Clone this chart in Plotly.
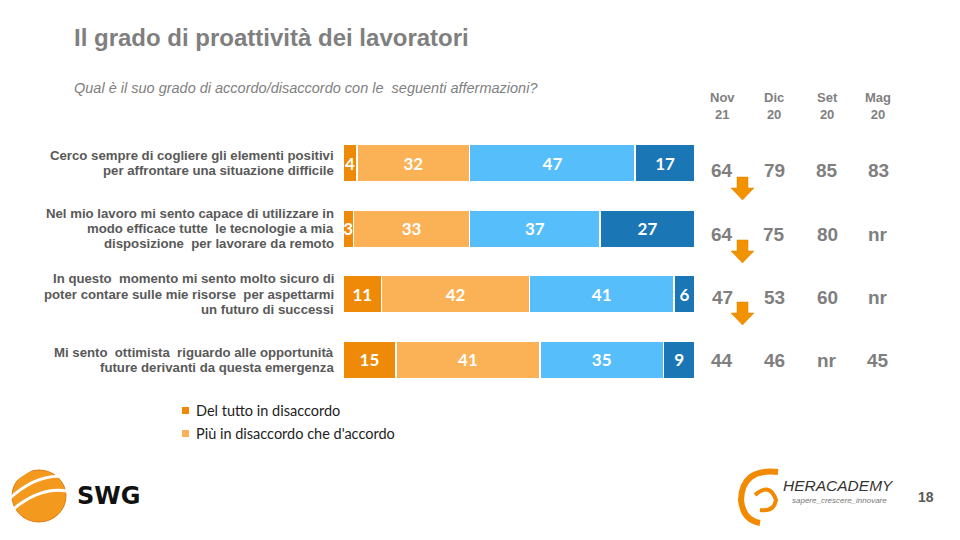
import plotly.graph_objects as go

# ---------------- data ----------------
statements = [
    "Cerco sempre di cogliere gli elementi positivi<br>per affrontare una situazione difficile",
    "Nel mio lavoro mi sento capace di utilizzare in<br>modo efficace tutte  le tecnologie a mia<br>disposizione  per lavorare da remoto",
    "In questo  momento mi sento molto sicuro di<br>poter contare sulle mie risorse  per aspettarmi<br>un futuro di successi",
    "Mi sento  ottimista  riguardo alle opportunità<br>future derivanti da questa emergenza",
]
series_names = [
    "Del tutto in disaccordo",
    "Più in disaccordo che d'accordo",
    "Più d'accordo che in disaccordo",
    "Del tutto d'accordo",
]
del_tutto_disaccordo = [4, 3, 11, 15]
piu_disaccordo = [32, 33, 42, 41]
piu_accordo = [47, 37, 41, 35]
del_tutto_accordo = [17, 27, 6, 9]
legend_shown = [0, 1]  # only the first two legend entries are visible

period_labels = ["Nov<br>21", "Dic<br>20", "Set<br>20", "Mag<br>20"]
trend_nov21 = ["64", "64", "47", "44"]
trend_dic20 = ["79", "75", "53", "46"]
trend_set20 = ["85", "80", "60", "nr"]
trend_mag20 = ["83", "nr", "nr", "45"]
decrease_rows = [0, 1, 2]  # rows with down arrows after Nov 21

colors = ["#EF8A09", "#FBB155", "#56BEFB", "#1A76B4"]

W, H = 960, 540
def px(x):
    return x / W
def py(y):
    return 1 - y / H

fig = go.Figure()
values = [del_tutto_disaccordo, piu_disaccordo, piu_accordo, del_tutto_accordo]
ys = list(range(len(statements)))
for i, (name, vals) in enumerate(zip(series_names, values)):
    fig.add_trace(go.Bar(
        y=ys, x=vals, orientation="h", name=name,
        marker=dict(color=colors[i], line=dict(color="white", width=1.5)),
        text=[str(v) for v in vals], textposition="inside",
        insidetextanchor="middle", textangle=0,
        textfont=dict(family="Lato", size=17, color="white", weight="bold"),
        showlegend=False, hoverinfo="skip",
    ))

fig.update_layout(
    barmode="stack", bargap=0.43,
    width=W, height=H,
    margin=dict(l=0, r=0, t=0, b=0),
    plot_bgcolor="white", paper_bgcolor="white",
    uniformtext=dict(minsize=17, mode="show"),
    xaxis=dict(domain=[px(343), px(695)], range=[0, 100], visible=False, fixedrange=True),
    yaxis=dict(domain=[py(392.6), py(130.2)], range=[3.5, -0.5], visible=False, fixedrange=True),
    showlegend=False,
)

ann = []
shapes = []
# title + subtitle
ann.append(dict(x=px(72), y=py(37), xref="paper", yref="paper", xanchor="left", yanchor="middle",
                text="<b>Il grado di proattività dei lavoratori</b>", showarrow=False,
                font=dict(family="Liberation Sans", size=24, color="#7F7F7F")))
ann.append(dict(x=px(72), y=py(88), xref="paper", yref="paper", xanchor="left", yanchor="middle",
                text="<i>Qual è il suo grado di accordo/disaccordo con le  seguenti affermazioni?</i>", showarrow=False,
                font=dict(family="Liberation Sans", size=14.5, color="#7F7F7F")))
# statements: one annotation per line for tight line spacing
line_gap = 15.3
for i, s in enumerate(statements):
    lines = s.split("<br>")
    n = len(lines)
    centre_px = 163 + 65.6 * i
    for j, ln in enumerate(lines):
        yline = centre_px + (j - (n - 1) / 2) * line_gap
        ann.append(dict(x=px(336), y=py(yline), xref="paper", yref="paper", xanchor="right", yanchor="middle",
                        text="<b>" + ln + "</b>", showarrow=False, align="right",
                        font=dict(family="Liberation Sans", size=13.2, color="#595959")))
# trend columns
col_x = [722, 774, 827, 878]
val_y = [170, 234, 297, 360]
cols = [trend_nov21, trend_dic20, trend_set20, trend_mag20]
for cx, lab, col in zip(col_x, period_labels, cols):
    ann.append(dict(x=px(cx), y=py(106), xref="paper", yref="paper", xanchor="center", yanchor="middle",
                    text="<b>" + lab + "</b>", showarrow=False,
                    font=dict(family="Liberation Sans", size=13, color="#7F7F7F")))
    for vy, v in zip(val_y, col):
        ann.append(dict(x=px(cx), y=py(vy), xref="paper", yref="paper", xanchor="center", yanchor="middle",
                        text="<b>" + v + "</b>", showarrow=False,
                        font=dict(family="Liberation Sans", size=19, color="#7F7F7F")))
# manual legend (only the first two entries are visible in the original)
leg_y = [410.5, 433.5]
for k, idx in enumerate(legend_shown):
    shapes.append(dict(type="rect", xref="paper", yref="paper",
                       x0=px(182), x1=px(189), y0=py(leg_y[k] + 3.5), y1=py(leg_y[k] - 3.5),
                       fillcolor=colors[idx], line=dict(width=0)))
    ann.append(dict(x=px(194), y=py(leg_y[k]), xref="paper", yref="paper", xanchor="left", yanchor="middle",
                    text=series_names[idx], showarrow=False,
                    font=dict(family="Lato", size=14.5, color="#222")))
# logos / page number
ann.append(dict(x=px(108), y=py(496), xref="paper", yref="paper", xanchor="center", yanchor="middle",
                text="<b>SWG</b>", showarrow=False,
                font=dict(family="DejaVu Sans", size=24, color="#111")))
ann.append(dict(x=px(781), y=py(485), xref="paper", yref="paper", xanchor="left", yanchor="middle",
                text="<i>HERACADEMY</i>", showarrow=False,
                font=dict(family="Liberation Sans Narrow, Liberation Sans", size=15.5, color="#333")))
ann.append(dict(x=px(790), y=py(500), xref="paper", yref="paper", xanchor="left", yanchor="middle",
                text="<i>sapere_crescere_innovare</i>", showarrow=False,
                font=dict(family="Liberation Sans", size=8, color="#777")))
ann.append(dict(x=px(926), y=py(497), xref="paper", yref="paper", xanchor="center", yanchor="middle",
                text="<b>18</b>", showarrow=False,
                font=dict(family="Liberation Sans", size=14, color="#595959")))

# down arrows
arrow_tops = [177, 240, 302]
for r in decrease_rows:
    t = arrow_tops[r]
    pts = [(737, t), (748, t), (748, t + 11), (754, t + 11), (742.5, t + 23), (731, t + 11), (737, t + 11)]
    path = "M " + " L ".join(f"{px(x):.5f},{py(y):.5f}" for x, y in pts) + " Z"
    shapes.append(dict(type="path", xref="paper", yref="paper", path=path,
                       fillcolor="#F39200", line=dict(color="#D98200", width=0.5)))
# SWG sphere
shapes.append(dict(type="circle", xref="paper", yref="paper",
                   x0=px(12), x1=px(66), y0=py(522), y1=py(470),
                   fillcolor="#F39A1E", line=dict(color="#E07B10", width=1)))
for off in [-14, 0, 14]:
    shapes.append(dict(type="path", xref="paper", yref="paper",
                       path=f"M {px(8):.5f},{py(500 + off):.5f} Q {px(40):.5f},{py(470 + off):.5f} {px(72):.5f},{py(478 + off):.5f}",
                       line=dict(color="white", width=3)))
# Heracademy swirl
shapes.append(dict(type="path", xref="paper", yref="paper",
                   path=f"M {px(778):.5f},{py(472):.5f} Q {px(742):.5f},{py(468):.5f} {px(741):.5f},{py(500):.5f} Q {px(743):.5f},{py(520):.5f} {px(760):.5f},{py(523):.5f}",
                   line=dict(color="#F18A00", width=6)))
shapes.append(dict(type="path", xref="paper", yref="paper",
                   path=f"M {px(755):.5f},{py(495):.5f} Q {px(770):.5f},{py(482):.5f} {px(776):.5f},{py(500):.5f} Q {px(774):.5f},{py(512):.5f} {px(760):.5f},{py(510):.5f}",
                   line=dict(color="#F18A00", width=4)))

fig.update_layout(annotations=ann, shapes=shapes)
fig.write_html("out.html", config={"displayModeBar": False},
               post_script="document.body.style.margin='0';")
